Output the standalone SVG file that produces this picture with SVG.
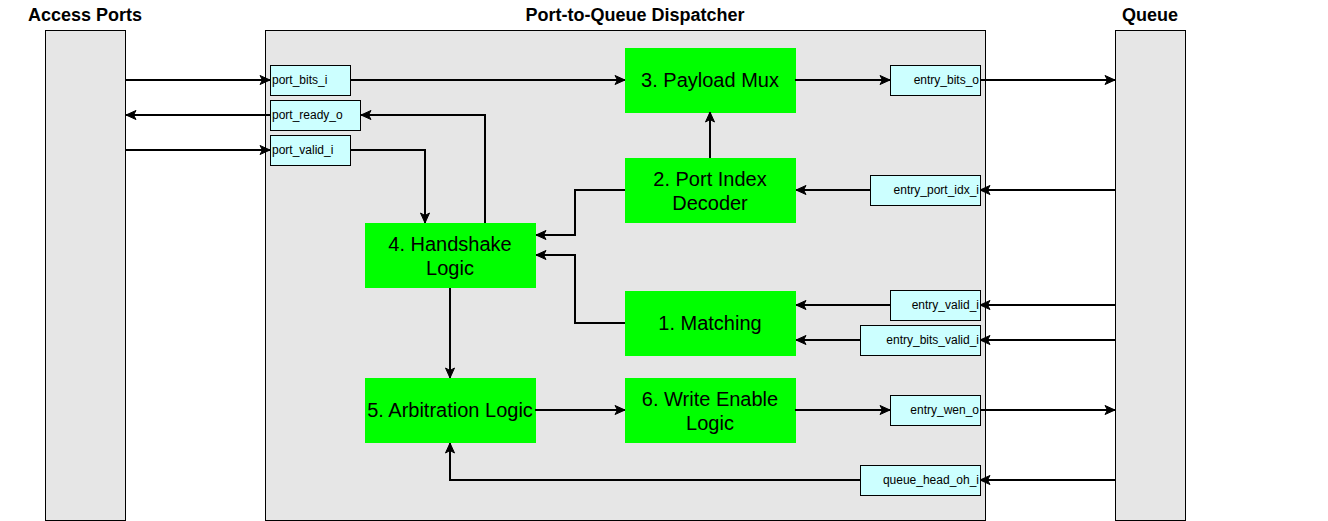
<svg xmlns="http://www.w3.org/2000/svg" width="1328" height="521" viewBox="0 0 1328 521">
<style>
.cont{fill:#e6e6e6;stroke:#000;stroke-width:1}
.port{fill:#ccffff;stroke:#000;stroke-width:1}
.blk{fill:#00ff00;stroke:#00ff00;stroke-width:1}
.title{font-family:"Liberation Sans",Arial,sans-serif;font-size:18px;font-weight:bold;text-anchor:middle;fill:#000}
.pt{font-family:"Liberation Sans",Arial,sans-serif;font-size:12px;fill:#000}
.bt{font-family:"Liberation Sans",Arial,sans-serif;font-size:20px;text-anchor:middle;fill:#000}
.c{fill:none;stroke:#000;stroke-width:2;marker-end:url(#arr)}
</style>
<defs>
<marker id="arr" markerUnits="userSpaceOnUse" markerWidth="12" markerHeight="12" viewBox="0 0 12 12" refX="11" refY="6" orient="auto">
<path d="M1,1.5 L11,6 L1,10.5 L3.5,6 Z" fill="#000" stroke="#000" stroke-width="1"/>
</marker>
</defs>
<rect width="1328" height="521" fill="#fff"/>
<g id="access"><rect class="cont" x="45.5" y="30.5" width="80" height="490"/><text class="title" x="85" y="21">Access Ports</text></g>
<g id="dispatcher"><rect class="cont" x="265.5" y="30.5" width="720" height="490"/><text class="title" x="635" y="21">Port-to-Queue Dispatcher</text></g>
<g id="queue"><rect class="cont" x="1115.5" y="30.5" width="70" height="490"/><text class="title" x="1150" y="21">Queue</text></g>

<g id="port_bits_i"><rect class="port" x="270.5" y="65.5" width="80" height="30"/><text class="pt" x="272" y="84">port_bits_i</text></g>
<g id="port_ready_o"><rect class="port" x="270.5" y="100.5" width="90" height="30"/><text class="pt" x="272" y="119">port_ready_o</text></g>
<g id="port_valid_i"><rect class="port" x="270.5" y="135.5" width="80" height="30"/><text class="pt" x="272" y="154">port_valid_i</text></g>
<g id="entry_bits_o"><rect class="port" x="890.5" y="65.5" width="90" height="30"/><text class="pt" x="979" y="84" text-anchor="end">entry_bits_o</text></g>
<g id="entry_port_idx_i"><rect class="port" x="870.5" y="175.5" width="110" height="30"/><text class="pt" x="979" y="194" text-anchor="end">entry_port_idx_i</text></g>
<g id="entry_valid_i"><rect class="port" x="890.5" y="290.5" width="90" height="30"/><text class="pt" x="979" y="309" text-anchor="end">entry_valid_i</text></g>
<g id="entry_bits_valid_i"><rect class="port" x="860.5" y="325.5" width="120" height="30"/><text class="pt" x="979" y="344" text-anchor="end">entry_bits_valid_i</text></g>
<g id="entry_wen_o"><rect class="port" x="890.5" y="395.5" width="90" height="30"/><text class="pt" x="979" y="414" text-anchor="end">entry_wen_o</text></g>
<g id="queue_head_oh_i"><rect class="port" x="860.5" y="465.5" width="120" height="30"/><text class="pt" x="979" y="484" text-anchor="end">queue_head_oh_i</text></g>

<g id="payload_mux"><rect class="blk" x="625.5" y="48.5" width="170" height="64"/><text class="bt" x="710" y="87">3. Payload Mux</text></g>
<g id="port_index_decoder"><rect class="blk" x="625.5" y="158.5" width="170" height="64"/><text class="bt" x="710" y="186">2. Port Index</text><text class="bt" x="710" y="210">Decoder</text></g>
<g id="handshake_logic"><rect class="blk" x="365.5" y="223.5" width="170" height="64"/><text class="bt" x="450" y="251">4. Handshake</text><text class="bt" x="450" y="275">Logic</text></g>
<g id="matching"><rect class="blk" x="625.5" y="291.5" width="170" height="64"/><text class="bt" x="710" y="330">1. Matching</text></g>
<g id="arbitration_logic"><rect class="blk" x="365.5" y="378.5" width="170" height="64"/><text class="bt" x="450" y="417">5. Arbitration Logic</text></g>
<g id="write_enable_logic"><rect class="blk" x="625.5" y="378.5" width="170" height="64"/><text class="bt" x="710" y="406">6. Write Enable</text><text class="bt" x="710" y="430">Logic</text></g>

<g id="connectors">
<path class="c" d="M126,80 H270"/>
<path class="c" d="M350,80 H625"/>
<path class="c" d="M485,223 V115 H361"/>
<path class="c" d="M270,115 H126"/>
<path class="c" d="M126,150 H270"/>
<path class="c" d="M350,150 H425 V223"/>
<path class="c" d="M795,80 H890"/>
<path class="c" d="M980,80 H1115"/>
<path class="c" d="M710,158 V112"/>
<path class="c" d="M1115,190 H980"/>
<path class="c" d="M870,190 H796"/>
<path class="c" d="M625,190 H575 V235 H536"/>
<path class="c" d="M625,323 H575 V255 H536"/>
<path class="c" d="M1115,305 H980"/>
<path class="c" d="M890,305 H796"/>
<path class="c" d="M1115,340 H980"/>
<path class="c" d="M860,340 H796"/>
<path class="c" d="M450,288 V378"/>
<path class="c" d="M535,410 H625"/>
<path class="c" d="M795,410 H890"/>
<path class="c" d="M980,410 H1115"/>
<path class="c" d="M1115,480 H980"/>
<path class="c" d="M860,480 H450 V443"/>
</g>
</svg>
